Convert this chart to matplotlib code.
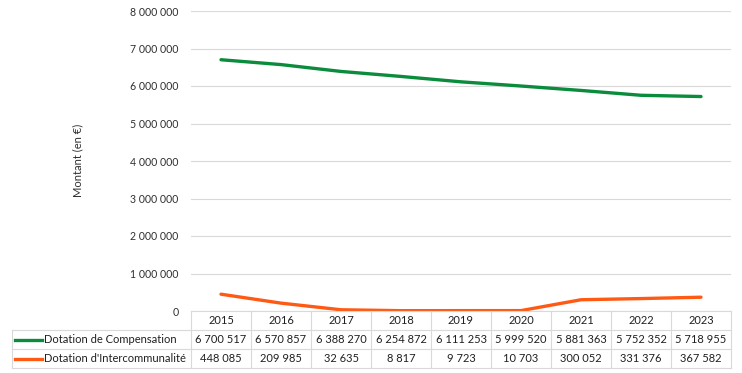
import matplotlib.pyplot as plt
from matplotlib.transforms import blended_transform_factory

plt.rcParams['font.family'] = ['Lato', 'DejaVu Sans']

years = ["2015", "2016", "2017", "2018", "2019", "2020", "2021", "2022", "2023"]
compensation = [6700517, 6570857, 6388270, 6254872, 6111253, 5999520, 5881363, 5752352, 5718955]
intercommunalite = [448085, 209985, 32635, 8817, 9723, 10703, 300052, 331376, 367582]
series_names = ["Dotation de Compensation", "Dotation d'Intercommunalité"]
series_colors = ["#0A8C3C", "#FF5A14"]
y_ticks = [0, 1000000, 2000000, 3000000, 4000000, 5000000, 6000000, 7000000, 8000000]


def fmt(v):
    return f"{v:,}".replace(",", " ")


W, H = 742, 373
fig = plt.figure(figsize=(W / 100, H / 100), dpi=100)
ax = fig.add_axes([191 / W, 1 - 311 / H, 540 / W, 300 / H])

x = list(range(len(years)))
ax.plot(x, compensation, color=series_colors[0], lw=2.4, solid_capstyle='round')
ax.plot(x, intercommunalite, color=series_colors[1], lw=2.4, solid_capstyle='round')

ax.set_xlim(-0.5, len(years) - 0.5)
ax.set_ylim(0, 8000000)
ax.set_yticks(y_ticks)
ax.set_yticklabels(["0" if v == 0 else fmt(v) for v in y_ticks], fontsize=7.6, color='#303030')
ax.tick_params(axis='y', length=0, pad=9)
ax.set_xticks([])
ax.grid(axis='y', color='#D9D9D9', lw=0.8)
ax.set_axisbelow(True)
for s in ax.spines.values():
    s.set_visible(False)
fig.text(78 / W, 1 - 160 / H, "Montant (en €)", rotation=90, ha='center', va='center',
         fontsize=8, color='#303030')

# data table below the axes
tr = blended_transform_factory(ax.transData, fig.transFigure)
ft = fig.transFigure
grid_c = '#D9D9D9'
rows_y = [311, 330, 349, 368]
fy = lambda p: 1 - p / H
n = len(years)
tfs = 8

# horizontal lines
fig.add_artist(plt.Line2D([-0.5, n - 0.5], [fy(rows_y[0])] * 2, transform=tr, color=grid_c, lw=0.8))
for yy in rows_y[1:]:
    fig.add_artist(plt.Line2D([12 / W, 731 / W], [fy(yy)] * 2, transform=ft, color=grid_c, lw=0.8))
# vertical lines
for i in range(n + 1):
    fig.add_artist(plt.Line2D([i - 0.5, i - 0.5], [fy(rows_y[0]), fy(rows_y[3])], transform=tr,
                              color=grid_c, lw=0.8))
fig.add_artist(plt.Line2D([12 / W, 12 / W], [fy(rows_y[1]), fy(rows_y[3])], transform=ft, color=grid_c, lw=0.8))

for i, yr in enumerate(years):
    fig.text(i, fy((rows_y[0] + rows_y[1]) / 2), yr, transform=tr, ha='center', va='center',
             fontsize=tfs, color='#202020')
for r, (vals, name, col) in enumerate(zip([compensation, intercommunalite], series_names, series_colors)):
    yc = fy((rows_y[r + 1] + rows_y[r + 2]) / 2)
    for i, v in enumerate(vals):
        fig.text(i, yc, fmt(v), transform=tr, ha='center', va='center', fontsize=tfs, color='#202020')
    fig.add_artist(plt.Line2D([15 / W, 42 / W], [yc, yc], transform=ft, color=col, lw=2.4))
    fig.text(44 / W, yc, name, transform=ft, ha='left', va='center', fontsize=tfs, color='#202020')

fig.savefig("out.png", dpi=100)
